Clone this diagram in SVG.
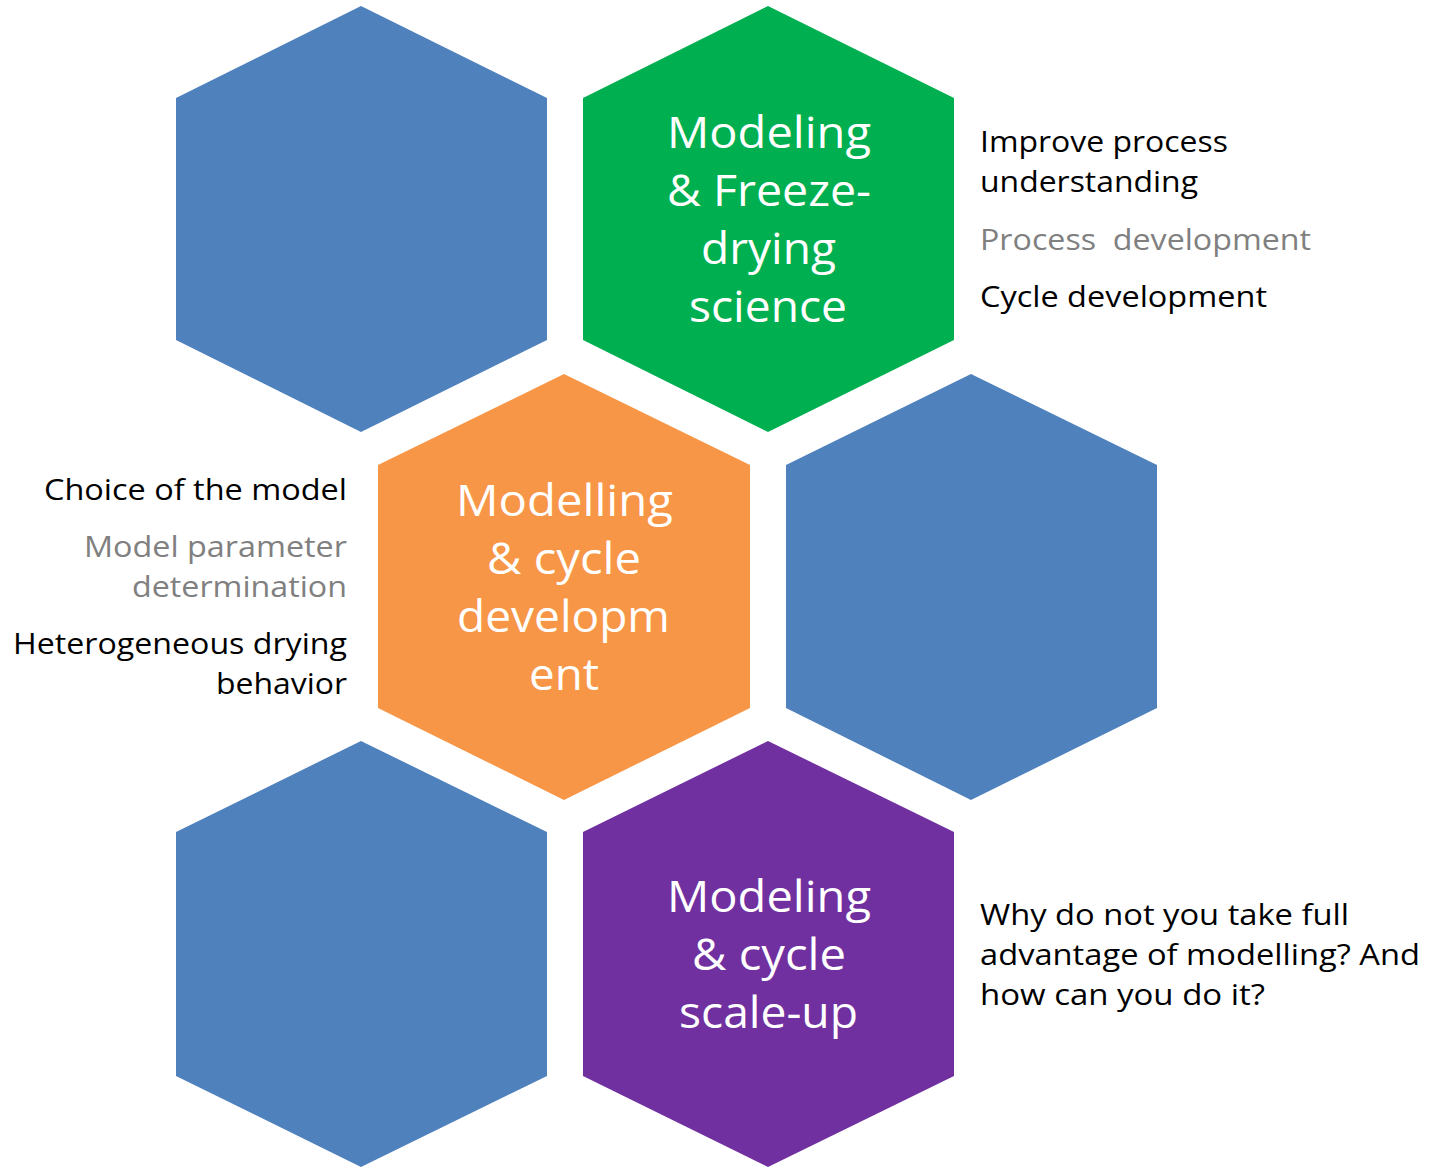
<svg xmlns="http://www.w3.org/2000/svg" width="1438" height="1168" viewBox="0 0 1438 1168">
<style>
.hex{stroke:none}
.blue{fill:#4F81BD}
.green{fill:#00B050}
.orange{fill:#F79646}
.purple{fill:#7030A0}
.w{fill:#FFFFFF;font-family:"Open Sans","Noto Sans",sans-serif;font-size:43px}
.t{fill:#000000;font-family:"Open Sans","Noto Sans",sans-serif;font-size:29px}
.g{fill:#808080}
</style>
<rect width="1438" height="1168" fill="#FFFFFF"/>
<g id="hex-top-left"><polygon class="hex blue" points="361,6 547,98 547,340 361,432 176,340 176,98"/></g>
<g id="hex-green">
<polygon class="hex green" points="768,6 954,98 954,340 768,432 583,340 583,98"/>
<text class="w" x="667" y="148" textLength="204" lengthAdjust="spacingAndGlyphs">Modeling</text>
<text class="w" x="667" y="206" textLength="204" lengthAdjust="spacingAndGlyphs">&amp; Freeze-</text>
<text class="w" x="701" y="264" textLength="135" lengthAdjust="spacingAndGlyphs">drying</text>
<text class="w" x="689" y="322" textLength="158" lengthAdjust="spacingAndGlyphs">science</text>
</g>
<g id="hex-orange">
<polygon class="hex orange" points="564,374 750,465 750,708 564,800 378,708 378,465"/>
<text class="w" x="456" y="516" textLength="217" lengthAdjust="spacingAndGlyphs">Modelling</text>
<text class="w" x="487" y="574" textLength="154" lengthAdjust="spacingAndGlyphs">&amp; cycle</text>
<text class="w" x="457" y="632" textLength="213" lengthAdjust="spacingAndGlyphs">developm</text>
<text class="w" x="529" y="690" textLength="70" lengthAdjust="spacingAndGlyphs">ent</text>
</g>
<g id="hex-right"><polygon class="hex blue" points="971,374 1157,465 1157,708 971,800 786,708 786,465"/></g>
<g id="hex-bottom-left"><polygon class="hex blue" points="361,741 547,832 547,1076 361,1167 176,1076 176,832"/></g>
<g id="hex-purple">
<polygon class="hex purple" points="768,741 954,832 954,1076 768,1167 583,1076 583,832"/>
<text class="w" x="667" y="912" textLength="204" lengthAdjust="spacingAndGlyphs">Modeling</text>
<text class="w" x="692" y="970" textLength="154" lengthAdjust="spacingAndGlyphs">&amp; cycle</text>
<text class="w" x="679" y="1028" textLength="179" lengthAdjust="spacingAndGlyphs">scale-up</text>
</g>
<g id="notes-green">
<text class="t" x="980" y="152" textLength="248" lengthAdjust="spacingAndGlyphs">Improve process</text>
<text class="t" x="980" y="192" textLength="218" lengthAdjust="spacingAndGlyphs">understanding</text>
<text class="t g" x="980" y="250" textLength="331" lengthAdjust="spacingAndGlyphs" xml:space="preserve">Process  development</text>
<text class="t" x="980" y="307" textLength="287" lengthAdjust="spacingAndGlyphs">Cycle development</text>
</g>
<g id="notes-orange">
<text class="t" x="44" y="500" textLength="303" lengthAdjust="spacingAndGlyphs">Choice of the model</text>
<text class="t g" x="84" y="557" textLength="263" lengthAdjust="spacingAndGlyphs">Model parameter</text>
<text class="t g" x="132" y="597" textLength="215" lengthAdjust="spacingAndGlyphs">determination</text>
<text class="t" x="13" y="654" textLength="334" lengthAdjust="spacingAndGlyphs">Heterogeneous drying</text>
<text class="t" x="216" y="694" textLength="131" lengthAdjust="spacingAndGlyphs">behavior</text>
</g>
<g id="notes-purple">
<text class="t" x="980" y="925" textLength="369" lengthAdjust="spacingAndGlyphs">Why do not you take full</text>
<text class="t" x="980" y="965" textLength="440" lengthAdjust="spacingAndGlyphs">advantage of modelling? And</text>
<text class="t" x="980" y="1005" textLength="285" lengthAdjust="spacingAndGlyphs">how can you do it?</text>
</g>
<g id="connectors"></g>
</svg>
